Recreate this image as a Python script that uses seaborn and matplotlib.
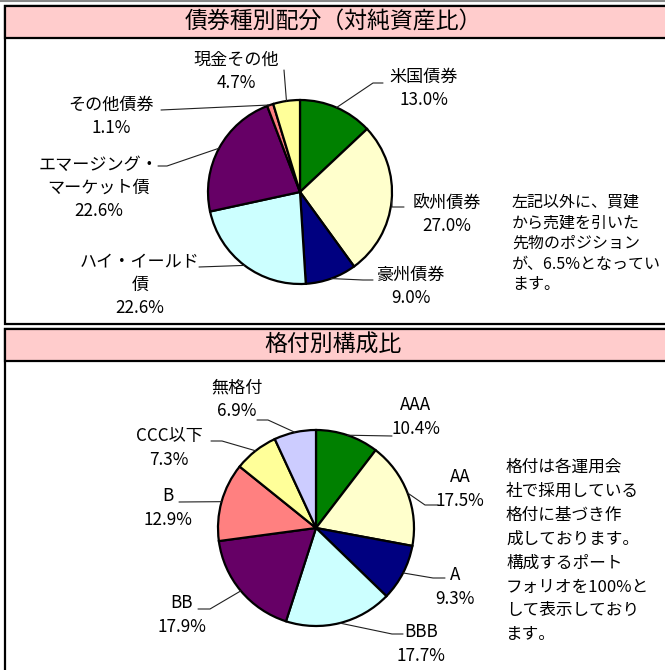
import numpy as np
import matplotlib as mpl

mpl.use('Agg')
import matplotlib.pyplot as plt
from matplotlib.patches import Rectangle
import seaborn as sns

# data
bond_types = ['米国債券', '欧州債券', '豪州債券', 'ハイ・イールド\n債',
              'エマージング・\nマーケット債', 'その他債券', '現金その他']
bond_share = [13.0, 27.0, 9.0, 22.6, 22.6, 1.1, 4.7]
bond_colors = ['#008000', '#FFFFCC', '#000080', '#CCFFFF', '#660066',
               '#FF8080', '#FFFF99']

ratings = ['AAA', 'AA', 'A', 'BBB', 'BB', 'B', 'CCC以下', '無格付']
rating_share = [10.4, 17.5, 9.3, 17.7, 17.9, 12.9, 7.3, 6.9]
rating_colors = ['#008000', '#FFFFCC', '#000080', '#CCFFFF', '#660066',
                 '#FF8080', '#FFFF99', '#CCCCFF']

title_top = '債券種別配分（対純資産比）'
title_bottom = '格付別構成比'
note_top = ['左記以外に、買建', 'から売建を引いた', '先物のポジション',
            'が、6.5%となってい', 'ます。']
note_bottom = ['格付は各運用会', '社で採用している', '格付に基づき作',
               '成しております。', '構成するポート', 'フォリオを100%と',
               'して表示しており', 'ます。']

# layout (pixels, y measured from the top)
W, H = 665, 670
# label centre x, first line y
bond_label_pos = [(424, 77), (447, 203), (411, 275), (140, 262),
                  (99, 165), (111, 105), (236, 60)]
# leader: elbow (or None), end
bond_leader = [((373, 83), (383, 83)), ((392, 207), (404, 207)),
               ((363, 280), (373, 280)), (None, (199, 267)),
               ((167, 166), (158, 166)), (None, (161, 110)),
               (None, (284, 70))]
rating_label_pos = [(416, 405), (460, 477), (455, 575), (421, 632),
                    (182, 603), (168, 496), (169, 436), (237, 387)]
rating_leader = [(None, (392, 436)), ((425, 505), (438, 505)),
                 ((433, 578), (445, 578)), ((392, 634), (403, 634)),
                 ((210, 609), (198, 609)), (None, (179, 502)),
                 ((222, 441), (211, 441)), ((268, 420), (257, 420))]

sns.set_style('white')
plt.rcParams['font.family'] = ['Noto Sans CJK JP', 'DejaVu Sans']
plt.rcParams['text.color'] = 'black'

fig = plt.figure(figsize=(W / 100, H / 100), dpi=100)
ax = fig.add_axes([0, 0, 1, 1])


def fy(y):
    return H - y


def panel(top, head_bottom, bottom, title):
    ax.add_patch(Rectangle((5, fy(bottom)), W + 20, bottom - top,
                           facecolor='white', edgecolor='black', lw=1.6,
                           zorder=0))
    ax.add_patch(Rectangle((5, fy(head_bottom)), W + 20, head_bottom - top,
                           facecolor='#FFCCCC', edgecolor='black', lw=1.6,
                           zorder=1))
    ax.text(333, fy((top + head_bottom) / 2), title, fontsize=16.5,
            ha='center', va='center', zorder=2)


def draw_pie(values, labels, colors, center, radius, label_pos, leaders,
             step):
    cx, cy = center[0], fy(center[1])
    wedges, _ = ax.pie(values, colors=sns.color_palette(colors),
                       startangle=90, counterclock=False, center=(cx, cy),
                       radius=radius, frame=True,
                       wedgeprops=dict(edgecolor='black', linewidth=1.6))
    for w, lab, v, (lx, ly), (elbow, end) in zip(wedges, labels, values,
                                                 label_pos, leaders):
        mid = np.deg2rad((w.theta1 + w.theta2) / 2)
        pts = [(cx + radius * np.cos(mid), cy + radius * np.sin(mid))]
        if elbow is not None:
            pts.append((elbow[0], fy(elbow[1])))
        pts.append((end[0], fy(end[1])))
        xs, ys = zip(*pts)
        ax.plot(xs, ys, color='#202020', lw=0.8, zorder=3)
        lines = lab.split('\n') + [f'{v:.1f}%']
        for i, t in enumerate(lines):
            ax.text(lx, fy(ly + i * step), t, fontsize=12.3, ha='center',
                    va='center', zorder=4)


def note(lines, x, y0, step, size):
    for i, t in enumerate(lines):
        ax.text(x, fy(y0 + i * step), t, fontsize=size, ha='left',
                va='center')


ax.plot([0, W], [fy(1), fy(1)], color='#888888', lw=1.5)
panel(6, 38, 324, title_top)
panel(329, 361, H + 10, title_bottom)

draw_pie(bond_share, bond_types, bond_colors, (300, 192), 92,
         bond_label_pos, bond_leader, 23)
draw_pie(rating_share, ratings, rating_colors, (316, 528), 98,
         rating_label_pos, rating_leader, 24)

note(note_top, 512, 202, 20.7, 11.5)
note(note_bottom, 506, 467, 24, 12)

ax.set_xlim(0, W)
ax.set_ylim(0, H)
ax.set_aspect('auto')
ax.axis('off')

plt.savefig('out.png', dpi=100)
